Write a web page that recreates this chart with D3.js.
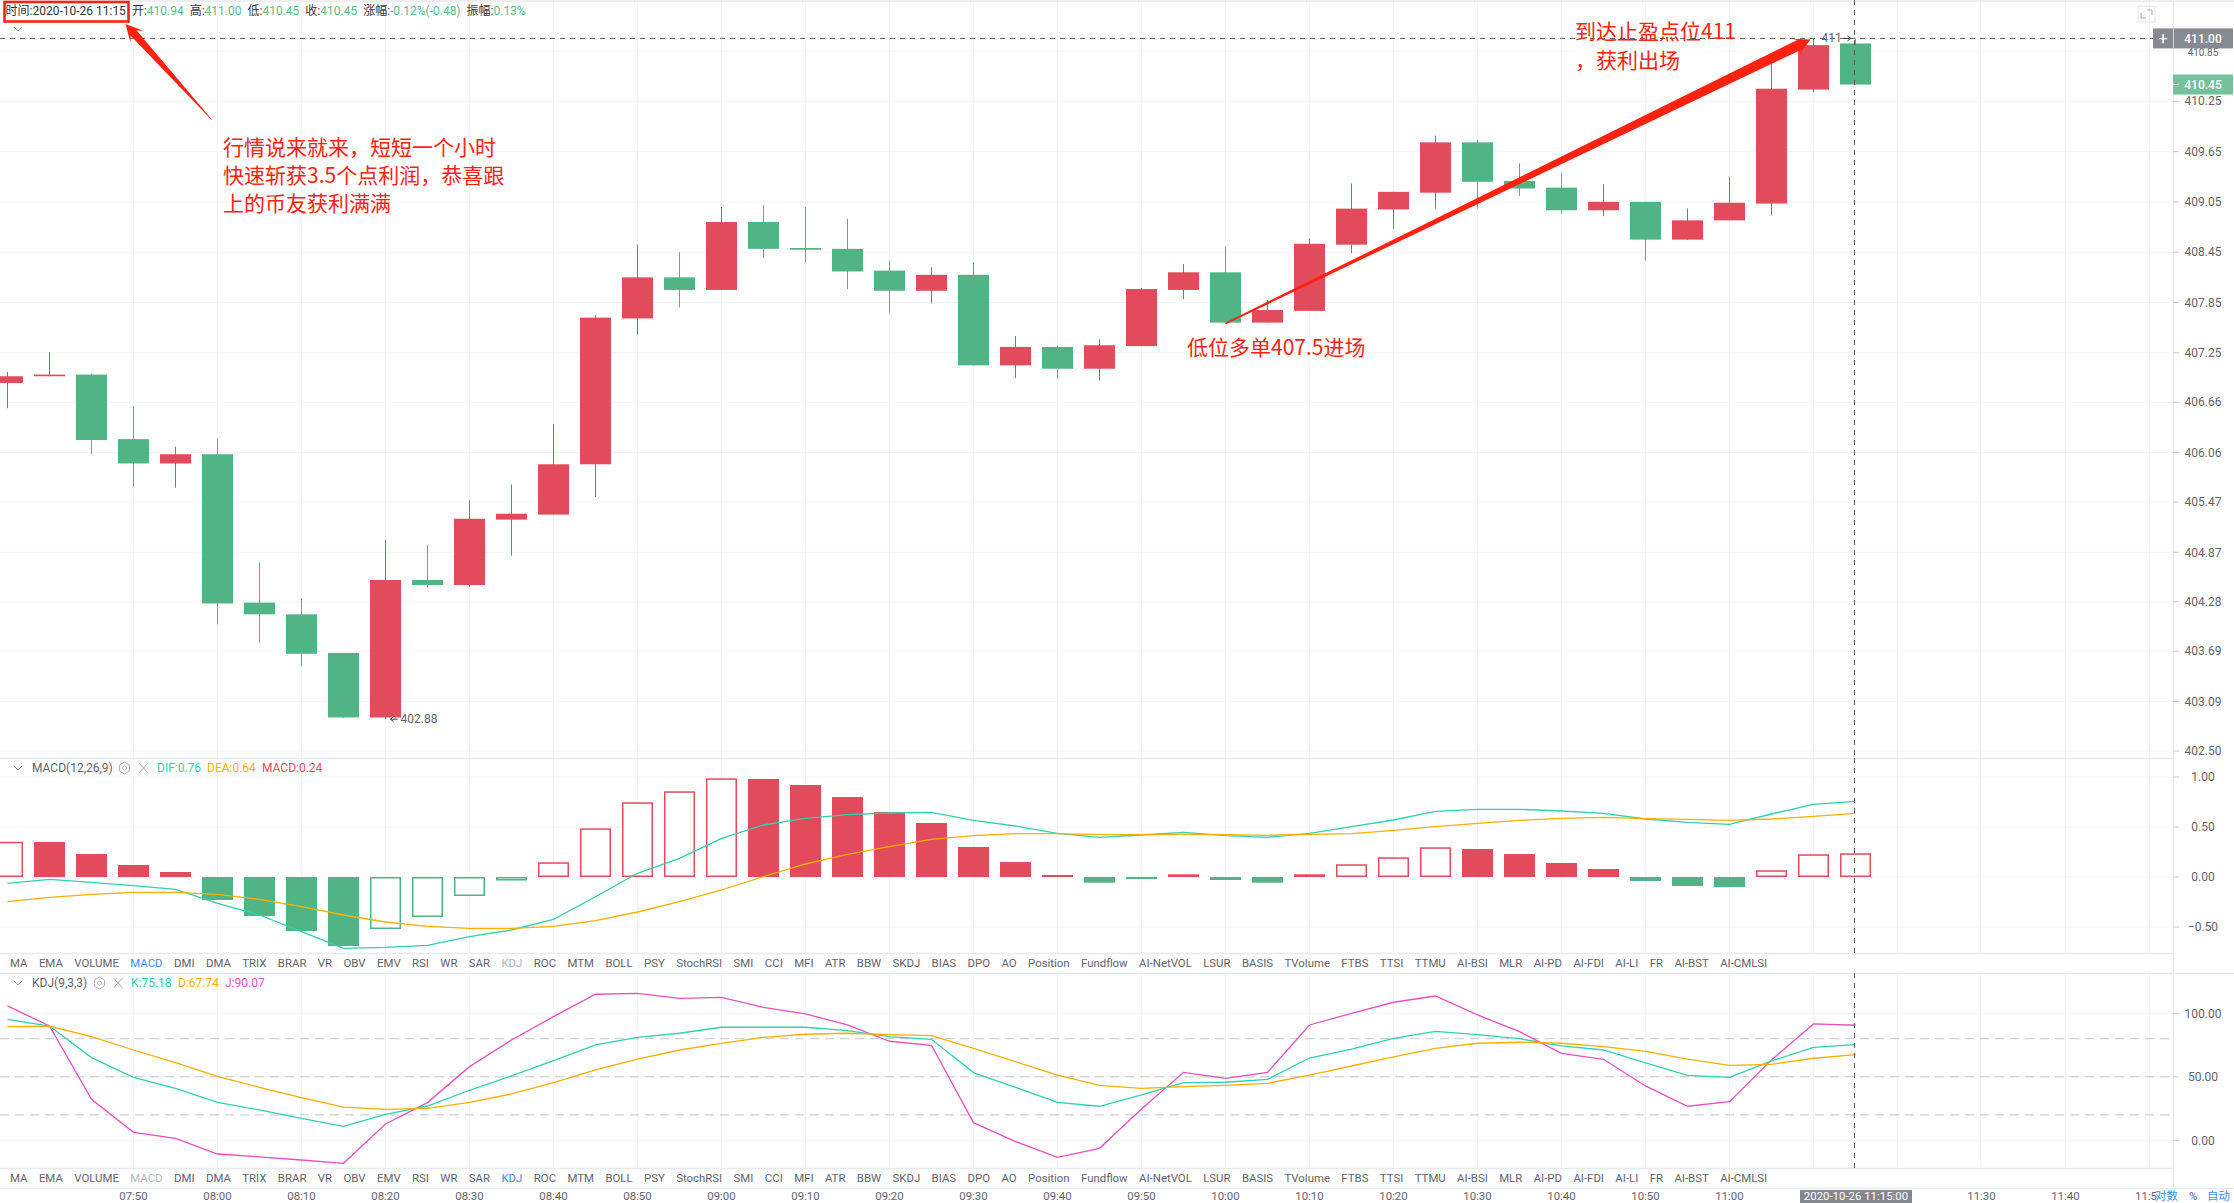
<!DOCTYPE html>
<html lang="zh">
<head>
<meta charset="utf-8">
<title>K线图</title>
<script src="https://cdn.jsdelivr.net/npm/d3@7/dist/d3.min.js"></script>
<style>
html,body{margin:0;padding:0;background:#fff;overflow:hidden}
svg{display:block}
text{font-family:Roboto,"Noto Sans CJK SC",sans-serif}
</style>
</head>
<body>
<svg id="chart" width="2234" height="1203"></svg>
<script>
const times = ["07:35","07:40","07:45","07:50","07:55","08:00","08:05","08:10","08:15","08:20","08:25","08:30","08:35","08:40","08:45","08:50","08:55","09:00","09:05","09:10","09:15","09:20","09:25","09:30","09:35","09:40","09:45","09:50","09:55","10:00","10:05","10:10","10:15","10:20","10:25","10:30","10:35","10:40","10:45","10:50","10:55","11:00","11:05","11:10","11:15"];
const opens = [406.89,406.97,406.99,406.22,405.93,406.04,404.27,404.13,403.67,402.90,404.54,404.48,405.26,405.32,405.92,407.66,408.15,408.00,408.81,408.50,408.49,408.23,407.99,408.18,407.10,407.32,407.06,407.33,408.00,408.21,407.61,407.75,408.54,408.96,409.16,409.76,409.30,409.22,408.95,409.05,408.60,408.83,409.03,410.39,410.94];
const closes = [406.97,406.99,406.21,405.93,406.04,404.26,404.13,403.66,402.90,404.54,404.48,405.27,405.33,405.92,407.67,408.15,408.00,408.81,408.49,408.48,408.22,407.99,408.18,407.10,407.32,407.06,407.34,408.01,408.21,407.61,407.76,408.55,408.97,409.17,409.76,409.29,409.21,408.95,409.05,408.60,408.83,409.04,410.40,410.92,410.45];
const highs = [407.02,407.26,407.00,406.61,406.13,406.22,404.75,404.32,403.67,405.02,404.96,405.49,405.68,406.40,407.70,408.54,408.45,408.99,409.01,408.99,408.85,408.35,408.27,408.33,407.45,407.33,407.41,408.02,408.31,408.51,407.88,408.61,409.27,409.17,409.84,409.79,409.51,409.40,409.26,409.05,408.97,409.35,410.72,411.00,411.00];
const lows = [406.59,406.97,406.04,405.65,405.64,404.01,403.79,403.51,402.90,402.88,404.45,404.46,404.83,405.32,405.53,407.47,407.79,408.00,408.38,408.33,408.01,407.73,407.84,407.10,406.95,406.94,406.92,407.33,407.89,407.61,407.61,407.75,408.44,408.73,408.97,408.97,409.12,408.91,408.88,408.35,408.60,408.83,408.89,410.36,410.45];
const histValues = [0.352,0.35,0.23,0.12,0.05,-0.23,-0.39,-0.54,-0.69,-0.52,-0.40,-0.19,-0.035,0.147,0.487,0.747,0.857,0.987,0.98,0.92,0.80,0.65,0.54,0.30,0.15,0.02,-0.057,-0.02,0.027,-0.03,-0.057,0.027,0.127,0.197,0.297,0.28,0.23,0.14,0.08,-0.04,-0.09,-0.10,0.067,0.227,0.237];
const difValues = [-0.063,-0.023,-0.053,-0.087,-0.123,-0.263,-0.38,-0.547,-0.713,-0.703,-0.683,-0.597,-0.53,-0.423,-0.197,0.037,0.187,0.387,0.52,0.587,0.623,0.64,0.647,0.567,0.51,0.437,0.397,0.42,0.447,0.413,0.397,0.437,0.503,0.57,0.657,0.677,0.677,0.66,0.637,0.58,0.547,0.527,0.63,0.727,0.757];
const deaValues = [-0.247,-0.203,-0.173,-0.153,-0.153,-0.173,-0.223,-0.297,-0.38,-0.45,-0.493,-0.513,-0.513,-0.493,-0.437,-0.35,-0.247,-0.13,0.003,0.13,0.227,0.303,0.377,0.413,0.433,0.433,0.423,0.423,0.427,0.423,0.417,0.427,0.433,0.467,0.503,0.537,0.567,0.587,0.597,0.583,0.577,0.567,0.58,0.607,0.637];
const kValues = [95.3,90,65.1,49.6,40.9,29.9,23.9,17.3,11,20.5,27,39.4,50.7,62.7,75.1,81.1,84.3,89,89,89,86.4,81.6,79.5,53.3,41.7,29.9,26.8,35.7,45.4,45.7,48,64.8,71.7,80.3,85.8,83.2,80,74.3,71.1,60.9,51.2,49.6,62.5,73.2,75.3];
const dValues = [89.5,89.8,81.6,71.1,61.2,50.4,41.7,33.6,26.2,24.4,25.2,29.9,36.5,45.4,55.4,64,71.1,76.4,81.1,83.5,84.3,83.2,82.4,72.4,61.9,51.4,43.3,40.9,42.3,43.3,44.9,51.4,58.5,65.6,72.4,76.4,77.2,76.4,73.8,70.1,64,59,59.8,64.6,67.5];
const jValues = [105.8,90,32.3,6.3,1.6,-10.8,-13.1,-15.5,-18.1,12.9,29.7,58,79,97.4,115,115.7,111.8,112.6,104.7,99.5,90.8,78,74.8,13.9,-1,-13.4,-6.3,24.7,53.5,48.8,53.5,90.8,100,108.7,113.6,98.7,85.6,68.5,63.8,42.8,26.8,30.4,63.3,91.6,90.6];
const priceTicks = ["410.85","410.25","409.65","409.05","408.45","407.85","407.25","406.66","406.06","405.47","404.87","404.28","403.69","403.09","402.50"];
const macdTicks = [1,0.5,0,-0.5];
const kdjTicks = [100,50,0];
const kdjDashed = [80,50,20];
const timeTicks = ["07:50","08:00","08:10","08:20","08:30","08:40","08:50","09:00","09:10","09:20","09:30","09:40","09:50","10:00","10:10","10:20","10:30","10:40","10:50","11:00","11:10","11:20","11:30","11:40","11:50"];
const timeLabels = ["07:50","08:00","08:10","08:20","08:30","08:40","08:50","09:00","09:10","09:20","09:30","09:40","09:50","10:00","10:10","10:20","10:30","10:40","10:50","11:00","11:30","11:40"];
const toolLabels = ["MA","EMA","VOLUME","MACD","DMI","DMA","TRIX","BRAR","VR","OBV","EMV","RSI","WR","SAR","KDJ","ROC","MTM","BOLL","PSY","StochRSI","SMI","CCI","MFI","ATR","BBW","SKDJ","BIAS","DPO","AO","Position","Fundflow","AI-NetVOL","LSUR","BASIS","TVolume","FTBS","TTSI","TTMU","AI-BSI","MLR","AI-PD","AI-FDI","AI-LI","FR","AI-BST","AI-CMLSI"];
const headerItems = [["时间:","2020-10-26 11:15"],["开:","410.94"],["高:","411.00"],["低:","410.45"],["收:","410.45"],["涨幅:","-0.12%(-0.48)"],["振幅:","0.13%"]];
const noteLeft = ["行情说来就来，短短一个小时","快速斩获3.5个点利润，恭喜跟","上的币友获利满满"];
const noteTarget = ["到达止盈点位411","，获利出场"];
const noteEntry = "低位多单407.5进场";

const RED="#e24b5c", GREEN="#50b484", GRID="#f3f4f6", SEP="#e8eaed", TXT="#62656d";
const TEAL="#2fd2ae", ORANGE="#ffae00", PINK="#ea4fc0", NOTE="#ff2211";
const svg=d3.select("#chart");
const parse=d3.timeParse("%H:%M");
const axisX=2173, plotW=2173, barW=31;
const x=d3.scaleTime().domain([parse(times[0]),parse(times[times.length-1])]).range([7.5,1855.5]);
const yPrice=d3.scaleLinear().domain([402.5,410.85]).range([751,51]);
const yMacd=d3.scaleLinear().domain([-1,1]).range([977,777]);
const yKdj=d3.scaleLinear().domain([0,100]).range([1140.3,1013.3]);
const panes=[[0,758],[758,953],[973,1168]];
const xt=t=>x(parse(t));

// grid
const grid=svg.append("g");
panes.forEach(([a,b])=>{
  grid.selectAll(null).data(timeTicks).join("line")
    .attr("x1",d=>Math.round(xt(d))-0.5).attr("x2",d=>Math.round(xt(d))-0.5)
    .attr("y1",a).attr("y2",b).attr("stroke",GRID);
});
const hline=(y,stroke,x2=plotW)=>grid.append("line").attr("x1",0).attr("x2",x2).attr("y1",y).attr("y2",y).attr("stroke",stroke);
priceTicks.forEach(t=>hline(yPrice(+t),GRID));
macdTicks.forEach(t=>hline(yMacd(t),GRID));
kdjTicks.forEach(t=>hline(yKdj(t),GRID));
grid.selectAll(null).data(kdjDashed).join("line")
  .attr("x1",0).attr("x2",plotW).attr("y1",d=>yKdj(d)).attr("y2",d=>yKdj(d))
  .attr("stroke","#c4c5c8").attr("stroke-dasharray","9 6");

// separators
[[1,2234],[758.5,plotW],[953.5,plotW],[973.5,2234],[1168.5,plotW],[1188.5,2234]].forEach(([y,x2])=>
  svg.append("line").attr("x1",0).attr("x2",x2).attr("y1",y).attr("y2",y).attr("stroke",SEP).attr("stroke-width",1.4));
svg.append("line").attr("x1",axisX+.5).attr("x2",axisX+.5).attr("y1",0).attr("y2",1188).attr("stroke",SEP);

// MACD histogram
const hist=svg.append("g");
hist.selectAll("rect").data(histValues).join("rect").each(function(v,i){
  const hollow=i===0||v>=histValues[i-1];
  const c=v>=0?RED:GREEN, y0=yMacd(0), y1=yMacd(v), cx=xt(times[i]);
  const inset=hollow?0.75:0;
  d3.select(this).attr("x",cx-barW/2+inset).attr("width",barW-2*inset)
    .attr("y",Math.min(y0,y1)+inset).attr("height",Math.max(Math.abs(y1-y0)-2*inset,0.5))
    .attr("fill",hollow?"#fff":c).attr("stroke",hollow?c:"none").attr("stroke-width",hollow?1.5:0);
});
const drawLine=(values,scale,color)=>svg.append("path")
  .attr("d",d3.line().x((d,i)=>xt(times[i])).y(d=>scale(d))(values))
  .attr("fill","none").attr("stroke",color).attr("stroke-width",1.3);
drawLine(difValues,yMacd,TEAL);
drawLine(deaValues,yMacd,ORANGE);
drawLine(jValues,yKdj,PINK);
drawLine(kValues,yKdj,TEAL);
drawLine(dValues,yKdj,ORANGE);

// candles
const candles=svg.append("g");
times.forEach((t,i)=>{
  const c=closes[i]>=opens[i]?RED:GREEN, cx=xt(t);
  candles.append("line").attr("x1",cx).attr("x2",cx).attr("y1",yPrice(highs[i])).attr("y2",yPrice(lows[i])).attr("stroke",c).attr("stroke-width",1);
  const top=yPrice(Math.max(opens[i],closes[i])), bot=yPrice(Math.min(opens[i],closes[i]));
  candles.append("rect").attr("x",cx-barW/2).attr("width",barW).attr("y",top).attr("height",Math.max(bot-top,1.5)).attr("fill",c);
});

// crosshair
const cross=svg.append("g").attr("stroke","#555a64").attr("stroke-dasharray","5 5").attr("stroke-width",1);
const cursorX=xt(times[times.length-1])-1;
panes.forEach(([a,b])=>cross.append("line").attr("x1",cursorX).attr("x2",cursorX).attr("y1",a).attr("y2",b));
cross.append("line").attr("x1",0).attr("x2",plotW).attr("y1",yPrice(411)).attr("y2",yPrice(411));

// right axes
const axis=svg.append("g");
const addTick=(y,label)=>{
  axis.append("line").attr("x1",axisX).attr("x2",axisX+6).attr("y1",y).attr("y2",y).attr("stroke","#c9cbd0");
  axis.append("text").attr("x",2203).attr("y",y).attr("dy","0.35em").attr("text-anchor","middle").attr("font-size",12).attr("fill",TXT).text(label);
};
priceTicks.filter(t=>t!=="410.85").forEach(t=>addTick(yPrice(+t),t));
macdTicks.forEach(t=>addTick(yMacd(t),d3.format(".2f")(t)));
kdjTicks.forEach(t=>addTick(yKdj(t),d3.format(".2f")(t)));
axis.append("text").attr("x",2203).attr("y",yPrice(410.85)+1.5).attr("dy","0.35em").attr("text-anchor","middle").attr("font-size",10).attr("fill",TXT).text("410.85");

// price tags
const tag=(price,fill)=>{
  const y=yPrice(price);
  axis.append("rect").attr("x",axisX).attr("y",y-10).attr("width",60).attr("height",20).attr("fill",fill);
  axis.append("text").attr("x",2203).attr("y",y).attr("dy","0.35em").attr("text-anchor","middle").attr("font-size",12).attr("font-weight",500).attr("fill","#fff").text(price.toFixed(2));
};
tag(411,"#888a92");
tag(410.45,"#74c29a");
axis.append("line").attr("x1",axisX).attr("x2",axisX+6).attr("y1",yPrice(410.45)).attr("y2",yPrice(410.45)).attr("stroke","#fff");
axis.append("rect").attr("x",2153).attr("y",yPrice(411)-10).attr("width",20).attr("height",20).attr("fill","#888a92");
axis.append("text").attr("x",2163).attr("y",yPrice(411)).attr("dy","0.36em").attr("text-anchor","middle").attr("font-size",16).attr("fill","#fff").text("+");
axis.append("line").attr("x1",axisX+.5).attr("x2",axisX+.5).attr("y1",yPrice(411)-10).attr("y2",yPrice(411)+10).attr("stroke","#d8d9dc");

// fullscreen icon
const fs=svg.append("g").attr("fill","none");
fs.append("rect").attr("x",2138).attr("y",6).attr("width",17).attr("height",16).attr("stroke","#e3e4e7");
fs.append("path").attr("d","M2147 10h5v5M2146 18h-5v-5").attr("stroke","#a9acb3");

// toolbars
const toolRow=(y,active,muted)=>{
  let cur=10;
  toolLabels.forEach(label=>{
    const t=svg.append("text").attr("x",cur).attr("y",y).attr("dy","0.35em").attr("font-size",11.4)
      .attr("fill",label===active?"#3d8bff":label===muted?"#b4b6bd":TXT).text(label);
    cur+=t.node().getComputedTextLength()+11.4;
  });
};
toolRow(963.5,"MACD","KDJ");
toolRow(1178.5,"KDJ","MACD");

// time axis
svg.selectAll(null).data(timeLabels).join("text")
  .attr("x",d=>xt(d)).attr("y",1196.5).attr("dy","0.35em").attr("text-anchor","middle").attr("font-size",11.4).attr("fill",TXT).text(d=>d);
svg.append("text").attr("x",2135).attr("y",1196.5).attr("dy","0.35em").attr("font-size",11.4).attr("fill",TXT).text("11:5");
svg.append("rect").attr("x",1800).attr("y",1190).attr("width",112).attr("height",13).attr("fill","#85878e");
svg.append("text").attr("x",1856).attr("y",1196.5).attr("dy","0.35em").attr("text-anchor","middle").attr("font-size",11.4).attr("fill","#fff").text("2020-10-26 11:15:00");
[["对数",2155,"#3d8bff"],["%",2189,TXT],["自动",2207,"#3d8bff"]].forEach(([s,px,c])=>
  svg.append("text").attr("x",px).attr("y",1196.5).attr("dy","0.35em").attr("font-size",11.4).attr("fill",c).text(s));

// pane titles
const chevron=(cx,cy)=>svg.append("path").attr("d",`M${cx-4} ${cy-2}L${cx} ${cy+2}L${cx+4} ${cy-2}`).attr("fill","none").attr("stroke","#9a9da5");
const gear=(cx,cy)=>{
  svg.append("path").attr("d",`M${cx} ${cy-6}L${cx+5} ${cy-3}V${cy+3}L${cx} ${cy+6}L${cx-5} ${cy+3}V${cy-3}Z`).attr("fill","none").attr("stroke","#b4b6bd");
  svg.append("circle").attr("cx",cx).attr("cy",cy).attr("r",2).attr("fill","none").attr("stroke","#b4b6bd");
};
const cross2=(cx,cy)=>svg.append("path").attr("d",`M${cx-4.5} ${cy-5}L${cx+4.5} ${cy+5}M${cx+4.5} ${cy-5}L${cx-4.5} ${cy+5}`).attr("stroke","#a9acb3");
const label=(px,py,s,c)=>svg.append("text").attr("x",px).attr("y",py).attr("dy","0.35em").attr("font-size",12).attr("fill",c).text(s);
chevron(18,29);
chevron(18,768); label(32,767.5,"MACD(12,26,9)",TXT); gear(124.5,768); cross2(143.5,768);
label(157,767.5,"DIF:0.76",TEAL); label(207,767.5,"DEA:0.64",ORANGE); label(262,767.5,"MACD:0.24",RED);
chevron(18,983); label(32,982.5,"KDJ(9,3,3)",TXT); gear(99.5,983); cross2(118,983);
label(131,982.5,"K:75.18",TEAL); label(178,982.5,"D:67.74",ORANGE); label(225,982.5,"J:90.07",PINK);

// header
let hx=5.5;
headerItems.forEach(([k,v],i)=>{
  const a=label(hx,10.5,k,"#33363d");
  hx+=a.node().getComputedTextLength();
  const b=label(hx,10.5,v,i===0?"#33363d":"#5ebd8c");
  hx+=b.node().getComputedTextLength()+6;
});

// extreme markers
label(xt("11:10")+8,yPrice(411)-1,"411",TXT);
svg.append("path").attr("d",`M${xt("11:10")+30} ${yPrice(411)}h7m-3 -2.5l3 2.5l-3 2.5`).attr("fill","none").attr("stroke","#333");
svg.append("path").attr("d",`M${xt("08:20")+12} ${yPrice(402.88)}h-7m3 -2.5l-3 2.5l3 2.5`).attr("fill","none").attr("stroke","#333");
label(xt("08:20")+15,yPrice(402.88),"402.88",TXT);

// red annotations
const arrow=(x0,y0,x1,y1,tailW,neckW,headLen,headW)=>{
  const L=Math.hypot(x1-x0,y1-y0), ux=(x1-x0)/L, uy=(y1-y0)/L, nx=-uy, ny=ux;
  const at=(back,side)=>[x1-ux*back+nx*side,y1-uy*back+ny*side];
  const pts=[[x0+nx*tailW,y0+ny*tailW],at(headLen*.72,neckW),at(headLen,headW),[x1,y1],at(headLen,-headW),at(headLen*.72,-neckW),[x0-nx*tailW,y0-ny*tailW]];
  svg.append("polygon").attr("points",pts.map(p=>p.join(",")).join(" ")).attr("fill",NOTE);
};
arrow(xt("10:00"),yPrice(407.6),xt("11:10")-3,yPrice(411)+1,0.8,5.2,17,9);
arrow(211.5,119.5,125.5,24,0.2,4,17,8.7);
svg.append("rect").attr("x",4.5).attr("y",2).attr("width",124).attr("height",19.5).attr("fill","none").attr("stroke",NOTE).attr("stroke-width",2.6);
const note=(px,py,s)=>{
  const t=svg.append("text").attr("x",px).attr("y",py).attr("dy","0.35em").attr("font-size",21).attr("fill",NOTE)
    .style("font-family",'"Noto Sans CJK SC",sans-serif');
  s.split(/(，)/).forEach(part=>{
    if(part) t.append("tspan").style("font-family",part==="，"?'"Noto Sans CJK TC",sans-serif':'"Noto Sans CJK SC",sans-serif').text(part);
  });
};
noteLeft.forEach((s,i)=>note(223,[148,176,204][i],s));
noteTarget.forEach((s,i)=>note(1575,[32,61][i],s));
note(1187,348,noteEntry);
</script>
</body>
</html>
